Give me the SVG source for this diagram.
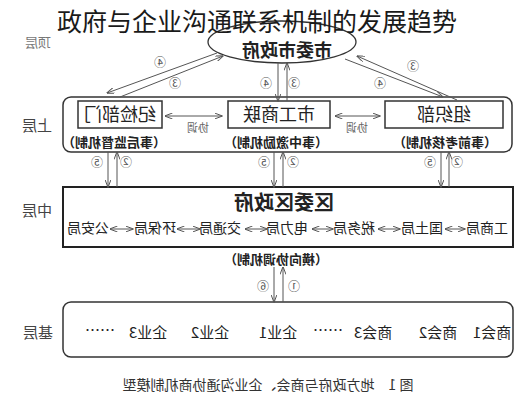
<svg xmlns="http://www.w3.org/2000/svg" width="527" height="400" viewBox="0 0 527 400">
<defs>
<marker id="ah" viewBox="0 0 8 6" refX="7.5" refY="3" markerWidth="8" markerHeight="6" orient="auto-start-reverse" markerUnits="userSpaceOnUse">
<path d="M0,0 L8,3 L0,6" fill="none" stroke="#555" stroke-width="1"/>
</marker>
<style>
text{font-family:"Noto Sans CJK SC","Noto Sans CJK JP",sans-serif;fill:#222;text-anchor:middle}
.lvl{font-size:15px;fill:#444}
.sub{font-size:18px}
.mech{font-size:13px;font-weight:bold}
.num{font-size:12px;fill:#555}
.xt{font-size:11px;fill:#666}
.row{font-size:14px}
.item{font-size:15px}
.ca{stroke:#555;stroke-width:1;fill:none;marker-end:url(#ah)}
.cd{stroke:#555;stroke-width:1;fill:none;marker-start:url(#ah);marker-end:url(#ah)}
.box{fill:#fff;stroke:#333;stroke-width:1.5}
</style>
</defs>
<rect width="527" height="400" fill="#fff"/>
<g id="diagram" transform="matrix(-1 0 0 1 527 0)">
<g id="levels">
<text class="lvl" x="489" y="47" style="font-size:13px;fill:#777">顶层</text>
<text class="lvl" x="490" y="131">上层</text>
<text class="lvl" x="490" y="216">中层</text>
<text class="lvl" x="489" y="338">基层</text>
</g>
<g id="top">
<ellipse cx="245" cy="42" rx="74" ry="21" fill="#fff" stroke="#333" stroke-width="1.3"/>
<text x="240" y="57" style="font-size:18px;font-weight:bold">市委市政府</text>
</g>
<g id="upper">
<rect class="box" x="15" y="97" width="449" height="55" rx="8"/>
<g id="jijian">
<rect class="box" x="365" y="101" width="84" height="27"/>
<text class="sub" x="407" y="121">纪检部门</text>
<text class="mech" x="413" y="147">（事后监督机制）</text>
</g>
<g id="gongshanglian">
<rect class="box" x="197" y="101" width="102" height="27"/>
<text class="sub" x="248" y="121">市工商联</text>
<text class="mech" x="251" y="147">（事中激励机制）</text>
</g>
<g id="zuzhibu">
<rect class="box" x="24" y="101" width="118" height="27"/>
<text class="sub" x="83" y="121">组织部</text>
<text class="mech" x="82" y="147">（事前考核机制）</text>
</g>
<text class="xt" x="329" y="132">协调</text>
<text class="xt" x="170" y="132">协调</text>
</g>
<g id="middle">
<rect x="14" y="187" width="450" height="60" fill="#fff" stroke="#222" stroke-width="2"/>
<text x="243" y="210" style="font-size:20px;font-weight:bold">区委区政府</text>
<text class="row" x="40" y="233">工商局</text>
<text class="row" x="105" y="233">国土局</text>
<text class="row" x="173" y="233">税务局</text>
<text class="row" x="240" y="233">电力局</text>
<text class="row" x="307" y="233">交通局</text>
<text class="row" x="372" y="233">环保局</text>
<text class="row" x="439" y="233">公安局</text>
<text class="mech" x="251" y="264">（横向协调机制）</text>
</g>
<g id="base">
<rect class="box" x="14" y="302" width="450" height="55" rx="8"/>
<text class="item" x="35" y="338">商会1</text>
<text class="item" x="89" y="338">商会2</text>
<text class="item" x="154" y="338">商会3</text>
<text class="item" x="199" y="336">……</text>
<text class="item" x="249" y="338">企业1</text>
<text class="item" x="317" y="338">企业2</text>
<text class="item" x="379" y="338">企业3</text>
<text class="item" x="427" y="336">……</text>
</g>
<g id="connectors">
<line class="cd" x1="305" y1="116" x2="362" y2="116"/>
<line class="cd" x1="147" y1="116" x2="192" y2="116"/>
<line class="cd" x1="62" y1="229" x2="82" y2="229"/>
<line class="cd" x1="127" y1="229" x2="149" y2="229"/>
<line class="cd" x1="194" y1="229" x2="215" y2="229"/>
<line class="cd" x1="260" y1="229" x2="282" y2="229"/>
<line class="cd" x1="327" y1="229" x2="350" y2="229"/>
<line class="cd" x1="394" y1="229" x2="417" y2="229"/>
<line class="ca" x1="310" y1="53" x2="420" y2="93"/>
<line class="ca" x1="407" y1="97" x2="304" y2="56"/>
<line class="ca" x1="182" y1="59" x2="84" y2="97"/>
<line class="ca" x1="70" y1="100" x2="170" y2="56"/>
<line class="ca" x1="249" y1="63" x2="249" y2="101"/>
<line class="ca" x1="240" y1="101" x2="240" y2="63"/>
<line class="ca" x1="419" y1="152" x2="419" y2="187"/>
<line class="ca" x1="410" y1="187" x2="410" y2="152"/>
<line class="ca" x1="253" y1="152" x2="253" y2="187"/>
<line class="ca" x1="244" y1="187" x2="244" y2="152"/>
<line class="ca" x1="86" y1="152" x2="86" y2="187"/>
<line class="ca" x1="78" y1="187" x2="78" y2="152"/>
<line class="ca" x1="253" y1="267" x2="253" y2="302"/>
<line class="ca" x1="244" y1="302" x2="244" y2="267"/>
</g>
<g id="steps">
<text class="num" x="367" y="67">④</text>
<text class="num" x="352" y="88">③</text>
<text class="num" x="114" y="71">③</text>
<text class="num" x="147" y="88">④</text>
<text class="num" x="261" y="88">④</text>
<text class="num" x="233" y="88">③</text>
<text class="num" x="430" y="167">⑤</text>
<text class="num" x="401" y="167">②</text>
<text class="num" x="263" y="167">⑤</text>
<text class="num" x="234" y="167">②</text>
<text class="num" x="97" y="167">⑤</text>
<text class="num" x="70" y="167">②</text>
<text class="num" x="264" y="291">⑥</text>
<text class="num" x="233" y="291">①</text>
</g>
<text x="259" y="390" style="font-size:14px;fill:#333">图 1　地方政府与商会、企业沟通协商机制模型</text>
</g>
<text id="title" x="257" y="31" style="font-size:25px;fill:#1a1a1a;text-anchor:middle;font-family:'Noto Sans CJK SC',sans-serif">政府与企业沟通联系机制的发展趋势</text>
</svg>
